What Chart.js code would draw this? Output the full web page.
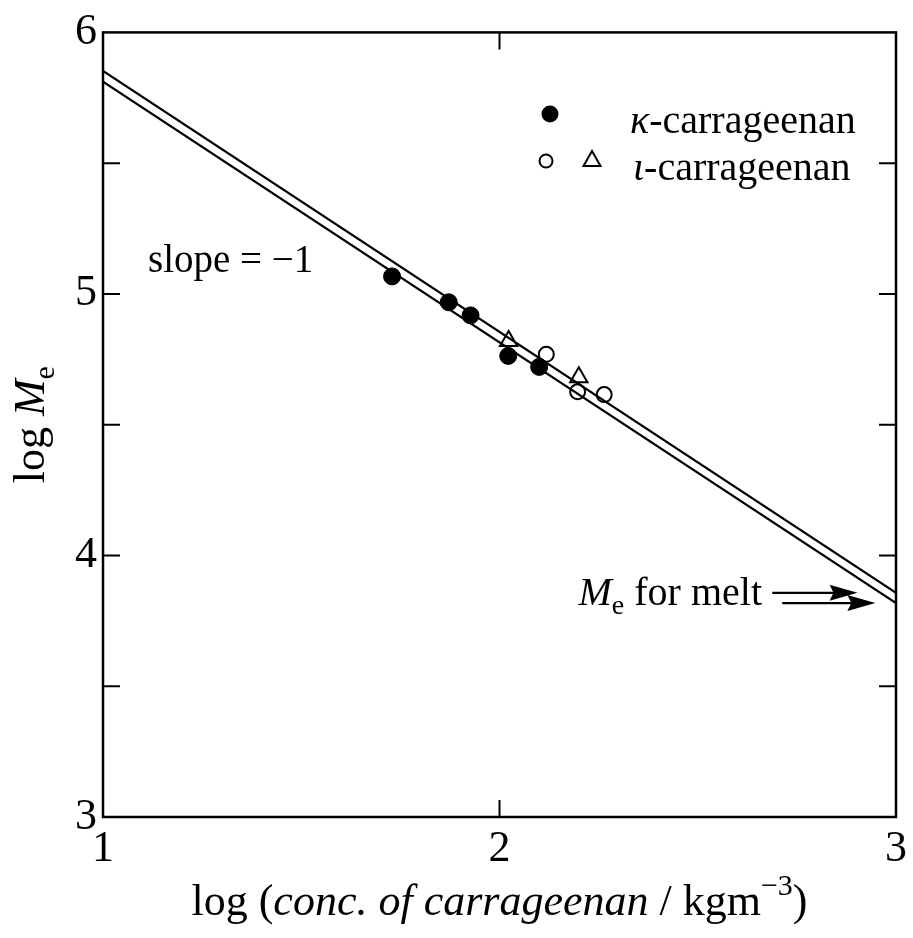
<!DOCTYPE html>
<html>
<head>
<meta charset="utf-8">
<script src="https://cdn.jsdelivr.net/npm/chart.js"></script>
<style>
  body { margin: 0; background: #fff; }
  #wrap { width: 913px; height: 938px; }
</style>
</head>
<body>
<div id="wrap"><canvas id="chart" width="913" height="938"></canvas></div>
<script>
// data
const kappaX = [1.729, 1.872, 1.927, 2.022, 2.100];
const kappaY = [5.067, 4.968, 4.918, 4.763, 4.721];
const iotaCircX = [2.118, 2.197, 2.264];
const iotaCircY = [4.769, 4.626, 4.615];
const iotaTriX = [2.023, 2.200];
const iotaTriY = [4.820, 4.681];
const fitX = [1, 3];
const fitUpper = [5.853, 3.857];
const fitLower = [5.812, 3.818];
const meltLogMe = [3.857, 3.818];
const xTicks = [1, 2, 3];
const yTicks = [3, 3.5, 4, 4.5, 5, 5.5, 6];
const legendLabels = ["κ", "ι"];

const serif = '"Liberation Serif", "Times New Roman", serif';
const pts = (xs, ys) => xs.map((x, i) => ({ x: x, y: ys[i] }));

// draws text made of pieces with different fonts: [text, font, dy]
function drawRich(ctx, parts, x, y, align) {
  let w = 0;
  parts.forEach(p => { ctx.font = p[1]; w += ctx.measureText(p[0]).width; });
  let cx = align === 'center' ? x - w / 2 : align === 'right' ? x - w : x;
  ctx.textAlign = 'left';
  ctx.textBaseline = 'alphabetic';
  parts.forEach(p => {
    ctx.font = p[1];
    ctx.fillText(p[0], cx, y + (p[2] || 0));
    cx += ctx.measureText(p[0]).width;
  });
}

function arrow(ctx, x1, x2, y) {
  ctx.beginPath();
  ctx.moveTo(x1, y);
  ctx.lineTo(x2 - 20, y);
  ctx.stroke();
  ctx.beginPath();
  ctx.moveTo(x2, y);
  ctx.lineTo(x2 - 28, y - 8);
  ctx.lineTo(x2 - 24, y);
  ctx.lineTo(x2 - 28, y + 8);
  ctx.closePath();
  ctx.fill();
}

const framePlugin = {
  id: 'frame',
  beforeDatasetsDraw(chart) {
    const { ctx, chartArea: a, scales: { x, y } } = chart;
    ctx.save();
    ctx.strokeStyle = '#000';
    ctx.lineWidth = 2.5;
    ctx.strokeRect(a.left, a.top, a.right - a.left, a.bottom - a.top);
    ctx.lineWidth = 2;
    const tl = 17;
    ctx.beginPath();
    x.ticks.forEach(t => {
      if (t.value === x.min || t.value === x.max) return;
      const px = x.getPixelForValue(t.value);
      ctx.moveTo(px, a.bottom); ctx.lineTo(px, a.bottom - tl);
      ctx.moveTo(px, a.top); ctx.lineTo(px, a.top + tl);
    });
    y.ticks.forEach(t => {
      if (t.value === y.min || t.value === y.max) return;
      const py = y.getPixelForValue(t.value);
      ctx.moveTo(a.left, py); ctx.lineTo(a.left + tl, py);
      ctx.moveTo(a.right, py); ctx.lineTo(a.right - tl, py);
    });
    ctx.stroke();
    ctx.restore();
  },
  afterDraw(chart) {
    const { ctx, chartArea: a, scales: { x, y } } = chart;
    ctx.save();
    ctx.fillStyle = '#000';
    ctx.strokeStyle = '#000';
    const big = '40px ' + serif;
    const bigI = 'italic 40px ' + serif;
    const small = '28px ' + serif;
    const title = '44px ' + serif;
    const titleI = 'italic 44px ' + serif;

    // x axis title
    drawRich(ctx, [
      ['log (', title],
      ['conc. of carrageenan', titleI],
      [' / kgm', title],
      ['\u22123', '30px ' + serif, -20],
      [')', title]
    ], (a.left + a.right) / 2, 915, 'center');

    // y axis title (rotated)
    ctx.save();
    ctx.translate(44, (a.top + a.bottom) / 2);
    ctx.rotate(-Math.PI / 2);
    drawRich(ctx, [
      ['log ', title],
      ['M', titleI],
      ['e', '30px ' + serif, 10]
    ], 0, 0, 'center');
    ctx.restore();

    // legend
    ctx.lineWidth = 2;
    ctx.beginPath(); ctx.arc(550, 114, 8.5, 0, Math.PI * 2); ctx.fill();
    ctx.beginPath(); ctx.arc(546, 161, 6.5, 0, Math.PI * 2); ctx.stroke();
    ctx.beginPath();
    ctx.moveTo(592, 151); ctx.lineTo(600.5, 166); ctx.lineTo(583.5, 166); ctx.closePath();
    ctx.stroke();
    drawRich(ctx, [[legendLabels[0], bigI], ['-carrageenan', big]], 630, 133, 'left');
    drawRich(ctx, [[legendLabels[1], bigI], ['-carrageenan', big]], 633, 180, 'left');

    // slope annotation
    drawRich(ctx, [['slope = \u22121', '39px ' + serif]], 148, 272, 'left');

    // M_e for melt
    drawRich(ctx, [['M', bigI], ['e', small, 9], [' for melt', big]], 762, 605, 'right');
    ctx.lineWidth = 2.2;
    arrow(ctx, x.getPixelForValue(2.688), x.getPixelForValue(2.903), y.getPixelForValue(meltLogMe[0]));
    arrow(ctx, x.getPixelForValue(2.713), x.getPixelForValue(2.948), y.getPixelForValue(meltLogMe[1]));
    ctx.restore();
  }
};

new Chart(document.getElementById('chart'), {
  type: 'scatter',
  data: {
    datasets: [
      {
        type: 'line', data: pts(fitX, fitUpper), borderColor: '#000',
        borderWidth: 2.2, pointRadius: 0, fill: false
      },
      {
        type: 'line', data: pts(fitX, fitLower), borderColor: '#000',
        borderWidth: 2.2, pointRadius: 0, fill: false
      },
      {
        label: 'kappa', data: pts(kappaX, kappaY), pointRadius: 8.5,
        backgroundColor: '#000', borderColor: '#000', borderWidth: 1
      },
      {
        label: 'iota', data: pts(iotaCircX, iotaCircY), pointRadius: 7.5,
        backgroundColor: '#fff', borderColor: '#000', borderWidth: 2
      },
      {
        label: 'iota tri', data: pts(iotaTriX, iotaTriY), pointStyle: 'triangle',
        pointRadius: 10, backgroundColor: '#fff', borderColor: '#000', borderWidth: 2
      }
    ]
  },
  options: {
    responsive: false,
    animation: false,
    layout: { padding: { left: 0, right: 16, top: 28, bottom: 0 } },
    plugins: { legend: { display: false }, tooltip: { enabled: false } },
    scales: {
      x: {
        type: 'linear', min: 1, max: 3,
        afterBuildTicks: s => { s.ticks = xTicks.map(v => ({ value: v })); },
        afterFit: s => { s.height = 121; },
        grid: { display: false, drawTicks: false },
        border: { display: false },
        ticks: { color: '#000', font: { family: serif, size: 44 }, padding: 6, maxRotation: 0 }
      },
      y: {
        type: 'linear', min: 3, max: 6,
        afterBuildTicks: s => { s.ticks = yTicks.map(v => ({ value: v })); },
        afterFit: s => { s.width = 103; },
        grid: { display: false, drawTicks: false },
        border: { display: false },
        ticks: {
          color: '#000', font: { family: serif, size: 44 }, padding: 6,
          callback: v => Number.isInteger(v) ? String(v) : ''
        }
      }
    }
  },
  plugins: [framePlugin]
});
</script>
</body>
</html>
